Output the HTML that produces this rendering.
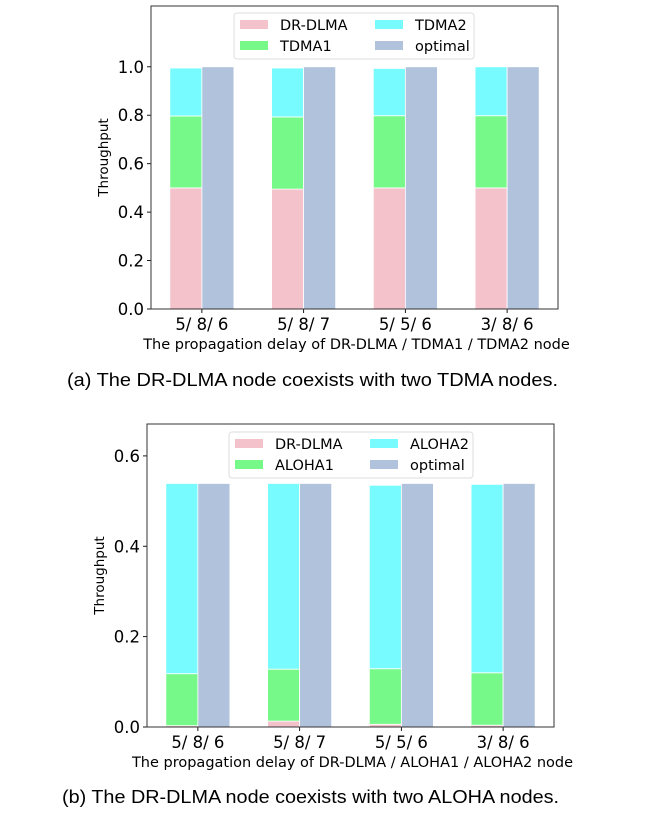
<!DOCTYPE html>
<html><head><meta charset="utf-8">
<style>
html,body{margin:0;padding:0;background:#fff;}
svg text{font-family:"DejaVu Sans","Liberation Sans",sans-serif;}
</style></head>
<body>
<svg id="s" width="666" height="810" xmlns="http://www.w3.org/2000/svg">
<text x="67" y="386" font-size="18" textLength="491" lengthAdjust="spacingAndGlyphs" style="font-family:'Liberation Sans',sans-serif">(a) The DR-DLMA node coexists with two TDMA nodes.</text>
<text x="62" y="803" font-size="18" textLength="497" lengthAdjust="spacingAndGlyphs" style="font-family:'Liberation Sans',sans-serif">(b) The DR-DLMA node coexists with two ALOHA nodes.</text>
</svg>
<script>
const categories = ["5/ 8/ 6","5/ 8/ 7","5/ 5/ 6","3/ 8/ 6"];
const tdmaDrdlma = [0.5, 0.495, 0.5, 0.5];
const tdma1 = [0.297, 0.298, 0.298, 0.298];
const tdma2 = [0.198, 0.202, 0.195, 0.202];
const tdmaOptimal = [1, 1, 1, 1];
const tdmaTicks = ["0.0","0.2","0.4","0.6","0.8","1.0"];
const alohaDrdlma = [0.003, 0.013, 0.006, 0.004];
const aloha1 = [0.115, 0.115, 0.123, 0.116];
const aloha2 = [0.421, 0.411, 0.406, 0.417];
const alohaOptimal = [0.539, 0.539, 0.539, 0.539];
const alohaTicks = ["0.0","0.2","0.4","0.6"];

const NS="http://www.w3.org/2000/svg";
const svg=document.getElementById('s');
const colors={dr:"#f4c2cb",s1:"#77f98a",s2:"#78fbff",opt:"#b1c2dc"};
function mk(tag,attrs,parent){const e=document.createElementNS(NS,tag);for(const k in attrs)e.setAttribute(k,attrs[k]);(parent||svg).appendChild(e);return e;}

function chart(cfg){
  const g=mk('g',{});
  
  
  const L=cfg.left,R=cfg.right,T=cfg.top,B=cfg.bottom;
  const y=v=>B-(v/cfg.ymax)*(B-T);
  const step=(R-L)/4;
  const xc=i=>L+step*(i+0.5);
  const bw=step*0.315;
  mk('rect',{x:L,y:T,width:R-L,height:B-T,fill:"#fff"},g);
  for(let i=0;i<categories.length;i++){
    const segs=[[cfg.dr[i],colors.dr,'dr-dlma'],[cfg.s1[i],colors.s1,cfg.n1],[cfg.s2[i],colors.s2,cfg.n2]];
    let base=0;
    for(const [v,c,n] of segs){
      const r=mk('rect',{x:xc(i)-bw,y:y(base+v),width:bw,height:y(base)-y(base+v),fill:c,stroke:"#fff","stroke-width":0.8},g);
      
      
      base+=v;
    }
    const o=mk('rect',{x:xc(i),y:y(cfg.opt[i]),width:bw,height:y(0)-y(cfg.opt[i]),fill:colors.opt,stroke:"#fff","stroke-width":0.8},g);
    
    
    mk('line',{x1:xc(i),x2:xc(i),y1:B,y2:B+4,stroke:"#000","stroke-width":0.9},g);
    const t=mk('text',{x:xc(i),y:B+21,"font-size":16.5,"text-anchor":"middle"},g);
    t.textContent=categories[i];
    
    
  }
  cfg.ticks.forEach(s=>{
    const v=parseFloat(s);
    mk('line',{x1:L-4,x2:L,y1:y(v),y2:y(v),stroke:"#000","stroke-width":0.9},g);
    const t=mk('text',{x:L-7,y:y(v)+6,"font-size":16.5,"text-anchor":"end"},g);
    t.textContent=s;
    
    
  });
  mk('rect',{x:L,y:T,width:R-L,height:B-T,fill:"none",stroke:"#333","stroke-width":1},g);
  const xl=mk('text',{x:(L+R)/2+2,y:B+40,"font-size":14.5,"text-anchor":"middle"},g);
  xl.textContent=cfg.xlabel;
  
  
  const yl=mk('text',{x:0,y:0,"font-size":13.5,"text-anchor":"middle",transform:`translate(${L-43},${(T+B)/2}) rotate(-90)`},g);
  yl.textContent="Throughput";
  
  
  const lg=mk('g',{},g);
  
  
  const lx=cfg.legX,ly=cfg.legY;
  mk('rect',{x:lx,y:ly,width:cfg.legW,height:46,rx:3,fill:"#fff",stroke:"#ddd","stroke-width":1},lg);
  const items=[["DR-DLMA",colors.dr,0,0],[cfg.n1,colors.s1,0,1],[cfg.n2,colors.s2,1,0],["optimal",colors.opt,1,1]];
  items.forEach(([n,c,col,row])=>{
    const ex=lx+6+col*135, ey=ly+7+row*21;
    const e=mk('g',{},lg);
    
    
    mk('rect',{x:ex,y:ey,width:28,height:9,fill:c},e);
    const t=mk('text',{x:ex+40,y:ey+10,"font-size":14.5},e);
    t.textContent=n;
  });
}
chart({id:'tdma-chart',left:151,right:558,top:6,bottom:309,ymax:1.251,dr:tdmaDrdlma,s1:tdma1,s2:tdma2,opt:tdmaOptimal,ticks:tdmaTicks,n1:"TDMA1",n2:"TDMA2",xlabel:"The propagation delay of DR-DLMA / TDMA1 / TDMA2 node",legX:234,legY:13,legW:240});
chart({id:'aloha-chart',left:147,right:554,top:424,bottom:727,ymax:0.6706,dr:alohaDrdlma,s1:aloha1,s2:aloha2,opt:alohaOptimal,ticks:alohaTicks,n1:"ALOHA1",n2:"ALOHA2",xlabel:"The propagation delay of DR-DLMA / ALOHA1 / ALOHA2 node",legX:229,legY:432,legW:244});
</script>
</body></html>
